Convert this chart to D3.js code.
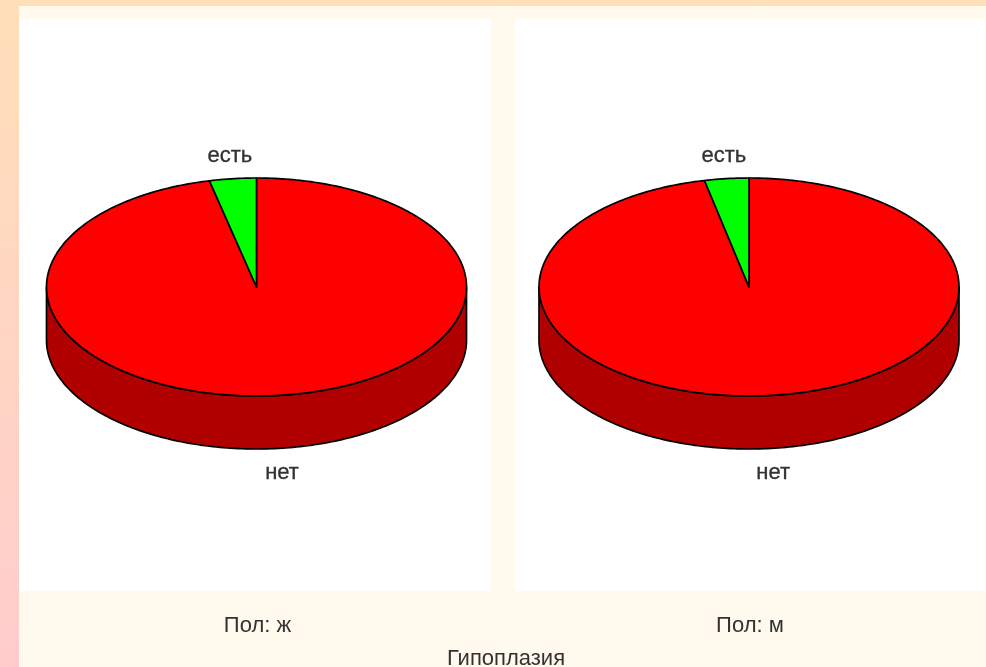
<!DOCTYPE html>
<html>
<head>
<meta charset="utf-8">
<script src="https://cdn.jsdelivr.net/npm/d3@7"></script>
<style>
html, body { margin: 0; padding: 0; background: #fff; overflow: hidden; }
svg { display: block; }
text { font-family: "Liberation Sans", Arial, sans-serif; font-size: 22px; fill: #333; }
.label { stroke: #333; stroke-width: 0.35px; }
</style>
</head>
<body>
<svg id="chart" width="986" height="667"></svg>
<script>
var categories = ["нет", "есть"];
var sexLabels = ["Пол: ж", "Пол: м"];
var womenValues = [96.4, 3.6];
var menValues = [96.6, 3.4];
var title = "Гипоплазия";
var sliceColors = ["#ff0000", "#00ff00"];
var wallColors = ["#b00000", "#00b000"];

var width = 986, height = 667;
var svg = d3.select("#chart");

// page background
var defs = svg.append("defs");
var grad = defs.append("linearGradient").attr("id", "bg")
    .attr("x1", 0).attr("y1", 0).attr("x2", 0).attr("y2", 1);
grad.append("stop").attr("offset", 0).attr("stop-color", "#ffdfb9");
grad.append("stop").attr("offset", 1).attr("stop-color", "#ffcccc");
defs.append("filter").attr("id", "soft")
    .append("feGaussianBlur").attr("stdDeviation", 0.45);

svg.append("rect").attr("width", width).attr("height", height).attr("fill", "url(#bg)");
svg.append("rect").attr("x", 19).attr("y", 6).attr("width", width - 19).attr("height", height - 6).attr("fill", "#fff9ee");

var rx = 210, ry = 109, depth = 53;
var pie = d3.pie().sort(null);
var step = Math.PI / 180;

function project(cx, cy, a, dy) {
    return [cx + rx * Math.sin(a), cy - ry * Math.cos(a) + (dy || 0)];
}

function drawPie(values, panelX, panelW, cx, cy, caption) {
    var g = svg.append("g");
    g.append("rect").attr("x", panelX).attr("y", 19).attr("width", panelW).attr("height", 572).attr("fill", "#fff");

    var arcs = pie(values);
    var line = d3.line();
    var marks = g.append("g").attr("filter", "url(#soft)");

    // front wall, only the part of each slice facing the viewer
    arcs.forEach(function(d, i) {
        var a0 = Math.max(d.startAngle, Math.PI / 2);
        var a1 = Math.min(d.endAngle, 3 * Math.PI / 2);
        if (a1 <= a0) return;
        var top = d3.range(a0, a1, step).concat(a1).map(function(a) { return project(cx, cy, a); });
        var bottom = d3.range(a0, a1, step).concat(a1).reverse().map(function(a) { return project(cx, cy, a, depth); });
        marks.append("path")
            .attr("d", line(top.concat(bottom)) + "Z")
            .attr("fill", wallColors[i])
            .attr("stroke", "#000").attr("stroke-width", 1.7).attr("stroke-linejoin", "round");
    });

    // top face
    arcs.forEach(function(d, i) {
        var rim = d3.range(d.startAngle, d.endAngle, step).concat(d.endAngle).map(function(a) { return project(cx, cy, a); });
        marks.append("path")
            .attr("d", line([[cx, cy]].concat(rim)) + "Z")
            .attr("fill", sliceColors[i])
            .attr("stroke", "#000").attr("stroke-width", 1.7).attr("stroke-linejoin", "round");
    });

    // slice labels, pushed out past the rim along the middle of the slice
    arcs.forEach(function(d, i) {
        var mid = (d.startAngle + d.endAngle) / 2;
        var front = Math.cos(mid) < 0;
        marks.append("text")
            .attr("class", "label")
            .attr("x", cx + rx * (front ? 1.08 : 1.12) * Math.sin(mid))
            .attr("y", cy - ry * (front ? 1.21 : 1.225) * Math.cos(mid) + (front ? depth : 0))
            .attr("dy", "0.35em")
            .attr("text-anchor", "middle")
            .text(categories[i]);
    });

    g.append("text").attr("x", cx + 1).attr("y", 624).attr("dy", "0.35em")
        .attr("text-anchor", "middle").attr("filter", "url(#soft)").text(caption);
}

drawPie(womenValues, 19, 472, 256.5, 287, sexLabels[0]);
drawPie(menValues, 515, 470, 749, 287, sexLabels[1]);

svg.append("text").attr("x", 506).attr("y", 657).attr("dy", "0.35em")
    .attr("text-anchor", "middle").attr("filter", "url(#soft)").text(title);
</script>
</body>
</html>
